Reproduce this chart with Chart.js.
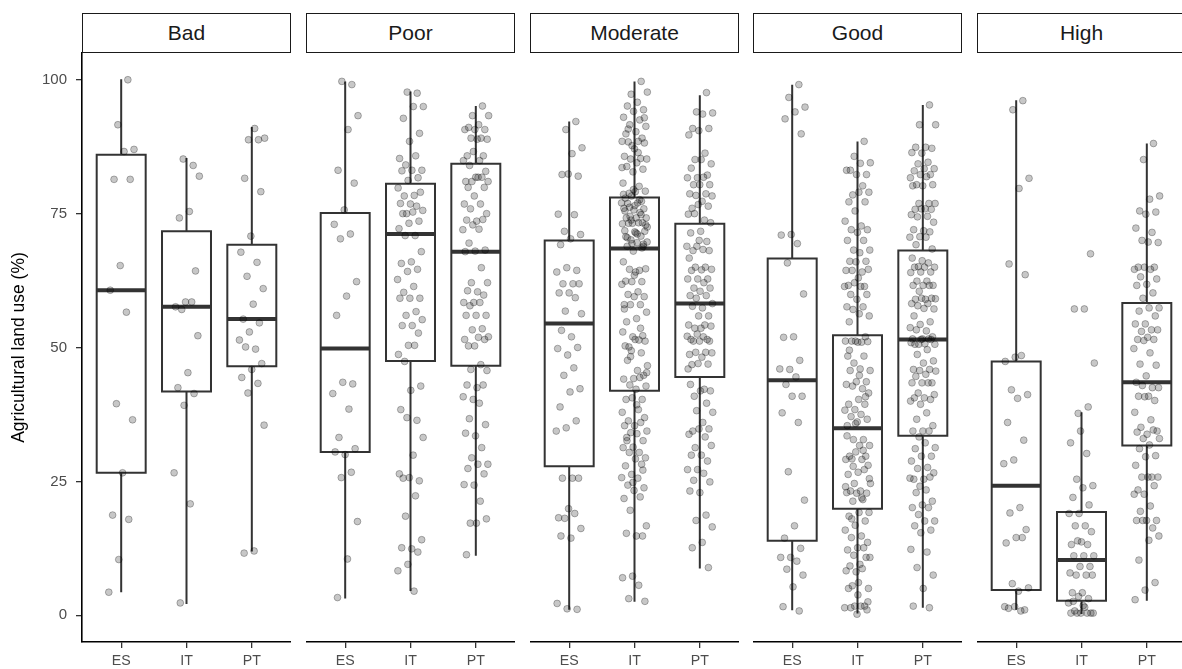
<!DOCTYPE html>
<html><head><meta charset="utf-8">
<script src="https://cdn.jsdelivr.net/npm/chart.js@4"></script>
<style>
html,body{margin:0;padding:0;background:#fff;overflow:hidden;width:1182px;height:669px;}
#wrap{position:relative;width:1182px;height:669px;overflow:hidden;background:#fff;}
.cv{position:absolute;top:0;}
.strip{position:absolute;top:13px;height:40px;box-sizing:border-box;border:1.6px solid #1a1a1a;background:#fff;
font-family:"Liberation Sans",Arial,sans-serif;font-size:21px;color:#1a1a1a;display:flex;align-items:center;justify-content:center;}
</style></head><body><div id="wrap"></div>
<script>
// ---------------- DATA ----------------
const panels = ['Bad','Poor','Moderate','Good','High'];
const countries = ['ES','IT','PT'];
const yTicks = [0,25,50,75,100];
const yTitle = 'Agricultural land use (%)';

// box stats per country: [lower whisker, Q1, median, Q3, upper whisker]
const boxBad      = [[4.5,26.6,60.7,86.0,99.9],[2.3,41.8,57.6,71.7,85.2],[12.1,46.5,55.3,69.2,91.0]];
const boxPoor     = [[3.3,30.5,49.8,75.1,99.5],[4.7,47.5,71.2,80.6,97.6],[11.3,46.6,67.9,84.3,94.9]];
const boxModerate = [[1.2,27.8,54.5,70.0,92.0],[2.7,41.9,68.5,78.0,99.5],[8.9,44.5,58.2,73.1,96.9]];
const boxGood     = [[1.1,13.9,43.9,66.6,98.9],[0.5,19.9,34.9,52.3,88.3],[1.6,33.5,51.5,68.1,95.1]];
const boxHigh     = [[1.2,4.7,24.2,47.4,96.0],[0.4,2.7,10.3,19.3,37.7],[2.9,31.7,43.5,58.3,87.9]];

// observations
const ptsBadES = [100.0,91.6,87.0,86.6,81.4,81.4,65.3,60.7,56.6,39.5,36.5,26.6,18.7,17.9,10.4,4.3];
const ptsBadIT = [84.0,85.2,82.0,75.4,74.2,64.3,58.5,57.6,58.5,57.1,52.2,45.3,42.5,41.4,39.2,26.6,20.8,2.3];
const ptsBadPT = [88.8,88.8,89.1,90.9,81.6,79.1,70.8,67.8,65.9,63.3,61.0,58.1,55.3,54.6,52.9,51.4,49.7,50.1,47.0,45.9,44.4,43.3,41.5,35.5,12.0,11.6];

const ptsPoorES = [99.1,99.7,93.3,90.7,83.1,80.7,75.7,73.0,71.2,70.3,62.3,59.6,56.0,43.2,43.5,41.4,38.5,33.2,31.1,30.0,30.5,26.7,25.7,17.5,10.5,3.3];
const ptsPoorIT = [97.5,97.7,95.0,95.0,92.8,90.0,88.5,85.3,85.8,84.1,83.1,83.1,83.0,81.7,81.2,79.8,78.4,78.3,79.0,76.8,76.9,76.4,75.0,75.6,75.3,75.0,73.6,73.2,72.2,70.9,70.9,67.9,66.0,65.7,64.6,64.2,62.7,61.4,60.3,59.2,59.2,59.2,56.7,56.0,55.2,54.1,54.1,52.7,50.4,48.7,50.4,47.4,42.8,42.0,38.4,36.4,36.9,33.2,29.9,25.6,25.1,25.7,26.4,22.3,18.5,14.1,12.4,12.6,11.8,9.5,8.3,4.5];
const ptsPoorPT = [95.1,93.3,93.3,91.6,91.1,90.7,90.7,90.7,89.1,89.1,88.9,88.9,85.8,85.8,86.6,84.9,84.9,84.0,82.9,81.8,81.0,81.8,81.0,81.0,81.8,79.9,79.9,78.3,76.8,76.8,75.9,75.0,73.6,73.8,73.9,72.9,72.0,72.1,69.5,68.2,68.0,67.9,64.9,62.1,62.1,60.4,60.6,59.8,58.4,58.4,58.4,57.8,56.0,56.0,56.0,53.5,53.3,52.0,51.9,50.3,51.5,50.3,51.5,46.8,45.9,45.7,42.5,43.0,43.0,40.3,40.8,39.6,36.7,35.6,33.5,34.0,31.3,29.4,28.2,28.2,27.4,26.4,24.3,24.4,21.3,17.2,18.0,17.2,11.3];

const ptsModerateES = [92.2,90.7,87.3,86.2,82.3,82.0,82.4,74.9,74.8,71.7,71.1,70.3,69.2,64.4,64.9,64.1,61.9,61.9,61.9,60.2,60.2,59.3,56.8,56.3,52.0,53.2,50.0,48.6,49.8,46.2,44.8,42.3,41.7,38.9,36.3,35.0,34.4,25.6,25.6,25.6,19.9,18.2,19.0,18.1,16.2,14.4,14.8,1.1,1.2,2.2];
const ptsModerateIT = [99.7,97.3,97.7,95.8,95.1,94.4,94.1,93.0,92.5,91.6,91.3,90.3,89.9,89.1,87.7,88.5,88.5,88.4,88.2,87.1,85.7,85.3,85.2,85.2,84.5,83.8,83.3,82.8,80.7,80.1,78.8,79.2,79.1,77.9,77.3,78.3,77.0,77.0,76.9,75.9,75.7,76.0,75.2,74.5,74.2,74.2,74.2,73.3,73.2,73.1,73.3,73.2,71.7,71.6,71.8,70.8,70.1,69.7,69.6,68.9,68.9,68.0,66.0,64.4,64.6,64.7,64.1,62.4,62.3,62.3,61.8,60.4,59.9,59.5,59.5,58.0,58.0,58.0,56.6,55.4,54.8,52.2,52.0,52.9,51.4,50.1,51.2,51.5,50.3,49.0,49.4,46.6,45.7,47.6,44.8,44.2,44.1,44.4,43.0,42.8,42.2,40.3,40.3,40.6,37.9,38.4,36.3,36.9,35.4,35.4,36.0,34.1,34.4,33.9,32.6,32.6,31.4,31.3,30.4,30.4,29.4,29.2,27.9,28.2,26.3,25.7,25.6,24.3,23.8,23.3,21.8,22.1,19.6,16.7,14.8,15.3,14.8,7.3,7.0,5.6,3.1,2.6,
  76.5,75.5,74.8,73.8,72.5,71.2,70.5,69.3,79.5,78.6,77.6,76.2,72.9,71.4,70.7,68.6,69.4,83.6,86.4,90.8,92.9,63.5,57.2,53.6,48.3,45.3,39.3,33.2,27.1,24.8];
const ptsModeratePT = [97.6,94.0,93.8,93.6,90.9,90.9,90.5,89.7,86.3,85.1,84.3,85.1,83.5,82.2,81.7,81.7,81.8,80.4,80.4,80.4,78.7,78.7,78.4,78.3,77.3,76.0,76.4,76.7,74.9,73.8,75.0,73.3,71.7,71.4,69.8,68.9,68.9,68.3,68.1,68.1,70.0,66.7,65.0,65.0,64.6,64.5,64.4,62.8,62.8,62.8,62.1,61.1,61.1,60.5,59.7,59.7,59.2,58.2,57.4,57.7,55.9,55.9,54.2,54.2,53.6,54.0,53.6,51.5,51.5,52.5,52.1,52.0,51.2,51.2,51.2,48.7,49.1,49.1,49.0,48.2,46.8,46.9,47.0,46.0,42.2,40.9,41.9,41.9,43.1,39.6,38.2,37.9,36.0,34.4,34.8,34.8,33.8,33.3,31.3,31.7,29.9,29.9,28.8,27.2,27.2,26.5,25.2,24.9,22.9,23.2,18.7,17.7,16.5,13.6,12.6,8.9];

const ptsGoodES = [99.1,96.7,94.9,94.0,92.7,89.9,71.1,71.0,69.4,65.8,60.0,52.0,51.9,47.6,45.9,46.0,44.5,43.1,40.9,40.9,37.8,36.0,26.8,21.5,16.7,14.4,12.5,10.8,10.8,10.1,8.6,7.5,5.3,1.6,0.8];
const ptsGoodIT = [88.5,85.7,84.5,84.4,83.1,82.3,82.3,83.1,80.2,78.5,79.0,79.0,77.2,77.2,75.5,73.6,72.7,72.0,72.0,71.5,70.0,70.0,68.2,68.2,67.7,66.1,66.1,66.0,64.4,64.1,64.4,64.6,63.0,61.6,61.4,62.1,61.4,61.4,59.9,59.9,59.0,57.6,57.6,57.1,55.9,56.3,54.8,52.0,51.2,51.2,51.0,51.2,51.1,51.0,48.4,48.4,47.1,45.7,46.0,45.7,43.6,43.6,43.1,42.3,42.8,41.5,40.3,39.4,39.4,38.4,38.3,37.5,37.1,36.6,36.1,35.4,32.8,32.8,31.7,31.7,29.7,29.7,30.5,29.1,29.1,29.2,28.0,26.7,26.3,27.2,24.6,24.6,23.2,23.2,22.8,22.8,22.9,21.6,21.3,19.2,19.2,18.5,17.6,16.8,15.9,14.8,14.5,13.6,12.6,12.2,12.6,11.2,10.8,9.5,9.2,10.8,8.1,8.3,8.7,5.5,5.0,6.1,5.0,1.7,1.7,1.4,1.7,1.4,1.0,0.2,
  33.5,30.8,27.8,25.5,44.8,49.5,40.8,35.8,24.0,21.9,18.0,2.5,3.8];
const ptsGoodPT = [95.3,91.6,91.6,87.4,87.4,87.2,86.3,86.4,84.6,84.3,83.4,83.4,83.0,82.3,82.3,81.7,81.9,80.4,80.4,80.2,80.2,76.9,76.9,76.9,75.9,75.8,75.8,75.9,74.8,74.5,74.4,73.4,71.8,72.0,71.6,70.7,70.6,70.6,69.2,68.4,66.2,66.7,65.8,65.1,65.0,65.0,65.0,64.1,64.1,64.0,62.4,62.4,61.6,61.6,61.6,61.6,60.5,59.1,59.0,59.0,59.2,59.2,58.2,58.2,57.8,57.2,57.3,55.9,54.8,54.3,53.7,53.1,53.3,52.0,51.6,51.6,51.6,50.6,50.6,50.7,50.6,51.5,51.5,50.9,49.6,48.7,47.5,47.1,45.9,45.9,45.7,45.6,45.0,44.6,43.4,43.4,43.4,43.4,41.5,41.2,40.6,40.6,40.3,39.4,40.0,37.8,36.6,35.4,34.4,34.4,34.4,33.3,31.3,32.2,31.1,29.7,29.7,28.8,27.6,27.4,26.6,25.4,25.4,25.8,24.1,25.6,23.4,22.9,21.3,20.6,20.1,20.1,18.8,17.6,17.6,16.7,15.9,15.4,12.3,11.8,8.9,7.5,5.0,1.7,1.4];

const ptsHighES = [96.1,94.4,81.6,79.7,65.6,63.6,48.2,47.4,48.5,42.1,41.2,40.5,36.0,32.7,29.0,28.3,20.1,19.1,16.0,14.5,13.5,14.5,5.9,5.1,4.5,1.3,1.0,1.6,1.6,0.8];
const ptsHighIT = [38.9,37.7,47.1,57.2,57.2,67.5,34.4,32.2,30.2,25.4,24.2,23.8,22.0,20.6,19.0,19.0,16.7,16.7,15.6,13.7,13.2,13.2,13.9,11.1,11.1,11.1,9.1,9.1,7.9,7.5,7.5,7.5,4.2,4.2,3.1,3.5,2.3,1.5,0.8,0.4,0.4,0.4,0.4,0.4,0.4,1.8,2.6];
const ptsHighPT = [88.1,85.1,78.3,77.7,75.5,75.3,74.9,72.3,71.5,70.0,69.6,69.7,65.0,65.0,65.0,64.6,64.6,63.2,62.8,61.8,61.6,60.2,59.2,57.4,57.4,56.8,55.9,54.4,54.4,53.3,53.0,53.3,51.9,51.5,51.5,51.3,49.8,49.0,46.9,46.7,44.7,43.5,42.5,42.9,42.5,40.9,40.9,40.1,40.8,37.9,36.5,35.1,34.4,33.8,34.2,34.6,33.0,33.0,31.8,31.1,29.8,29.6,28.0,25.8,25.8,25.8,25.8,23.4,24.2,22.6,22.6,20.4,19.4,17.7,17.7,17.7,16.3,17.7,14.8,14.0,10.3,6.1,4.7,2.9];

const boxes  = [boxBad, boxPoor, boxModerate, boxGood, boxHigh];
const points = [[ptsBadES,ptsBadIT,ptsBadPT],[ptsPoorES,ptsPoorIT,ptsPoorPT],
                [ptsModerateES,ptsModerateIT,ptsModeratePT],[ptsGoodES,ptsGoodIT,ptsGoodPT],
                [ptsHighES,ptsHighIT,ptsHighPT]];

// ---------------- RENDER ----------------
const FONT = '"Liberation Sans", Arial, Helvetica, sans-serif';
Chart.defaults.font.family = FONT;
const wrap = document.getElementById('wrap');
const H = 669, PLOT_TOP = 53, XAXIS_H = 27, YAXIS_W = 82, PW = 209, STEP = 223.75;
const BOXW = 0.375, JIT = 0.2;
const jitter = j => ((((j + 1) * 0.6180339887 + 0.137) % 1) - 0.5) * 2 * JIT;

panels.forEach((name, k) => {
  const panelLeft = Math.round(82 + k * STEP);
  const first = k === 0;
  const cLeft = first ? 0 : panelLeft;
  const cW = first ? YAXIS_W + PW : PW;

  const strip = document.createElement('div');
  strip.className = 'strip';
  strip.style.left = panelLeft + 'px';
  strip.style.width = PW + 'px';
  strip.textContent = name;

  const cv = document.createElement('canvas');
  cv.className = 'cv';
  cv.width = cW; cv.height = H;
  cv.style.left = cLeft + 'px';
  cv.style.width = cW + 'px'; cv.style.height = H + 'px';
  wrap.appendChild(cv);
  wrap.appendChild(strip);

  const datasets = [];
  countries.forEach((c, i) => {
    const x = i + 1;
    const s = boxes[k][i];
    datasets.push({
      type: 'scatter', order: 0,
      data: points[k][i].map((v, j) => ({x: x + jitter(j), y: v})),
      pointRadius: 3.4, pointBorderWidth: 1,
      pointBackgroundColor: 'rgba(0,0,0,0.22)', pointBorderColor: 'rgba(0,0,0,0.28)',
      showLine: false
    });
    datasets.push({
      type: 'scatter', order: 1, showLine: true, spanGaps: false,
      data: [{x: x - BOXW, y: s[2]}, {x: x + BOXW, y: s[2]}],
      borderColor: '#333333', borderWidth: 4, borderCapStyle: 'butt',
      pointRadius: 0, tension: 0
    });
    datasets.push({
      type: 'scatter', order: 2, showLine: true, spanGaps: false,
      data: [{x, y: s[0]}, {x, y: s[1]}, {x, y: null},
             {x: x - BOXW, y: s[1]}, {x: x + BOXW, y: s[1]}, {x: x + BOXW, y: s[3]},
             {x: x - BOXW, y: s[3]}, {x: x - BOXW, y: s[1]}, {x, y: null},
             {x, y: s[3]}, {x, y: s[4]}],
      borderColor: '#333333', borderWidth: 2, borderCapStyle: 'square', borderJoinStyle: 'miter',
      pointRadius: 0, tension: 0
    });
  });

  new Chart(cv, {
    type: 'scatter',
    data: {datasets},
    options: {
      responsive: false, animation: false, events: [],
      layout: {autoPadding: false, padding: {top: PLOT_TOP, left: 0, right: 0, bottom: 0}},
      plugins: {legend: {display: false}, tooltip: {enabled: false}, title: {display: false}},
      scales: {
        x: {
          type: 'linear', min: 0.4, max: 3.6,
          afterBuildTicks: sc => { sc.ticks = countries.map((c, i) => ({value: i + 1})); },
          afterFit: sc => { sc.height = XAXIS_H; },
          ticks: {callback: v => countries[Math.round(v) - 1] || '', color: '#4d4d4d',
                  font: {size: 14.2}, padding: 5, maxRotation: 0, autoSkip: false},
          grid: {display: true, drawOnChartArea: false, drawTicks: true, tickLength: 6,
                 color: '#333333', lineWidth: 1.3},
          border: {display: true, color: '#000', width: 1.6}
        },
        y: {
          type: 'linear', min: -5, max: 105, display: first,
          afterBuildTicks: sc => { sc.ticks = yTicks.map(v => ({value: v})); },
          afterFit: sc => { sc.width = first ? YAXIS_W : 0; },
          ticks: {color: '#4d4d4d', font: {size: 15}, padding: 9},
          grid: {display: true, drawOnChartArea: false, drawTicks: true, tickLength: 6,
                 color: '#333333', lineWidth: 1.3},
          border: {display: true, color: '#000', width: 1.6},
          title: {display: true, text: yTitle, color: '#000', font: {size: 17.5},
                  padding: {top: 9, bottom: 0}}
        }
      }
    }
  });
});
</script></body></html>
